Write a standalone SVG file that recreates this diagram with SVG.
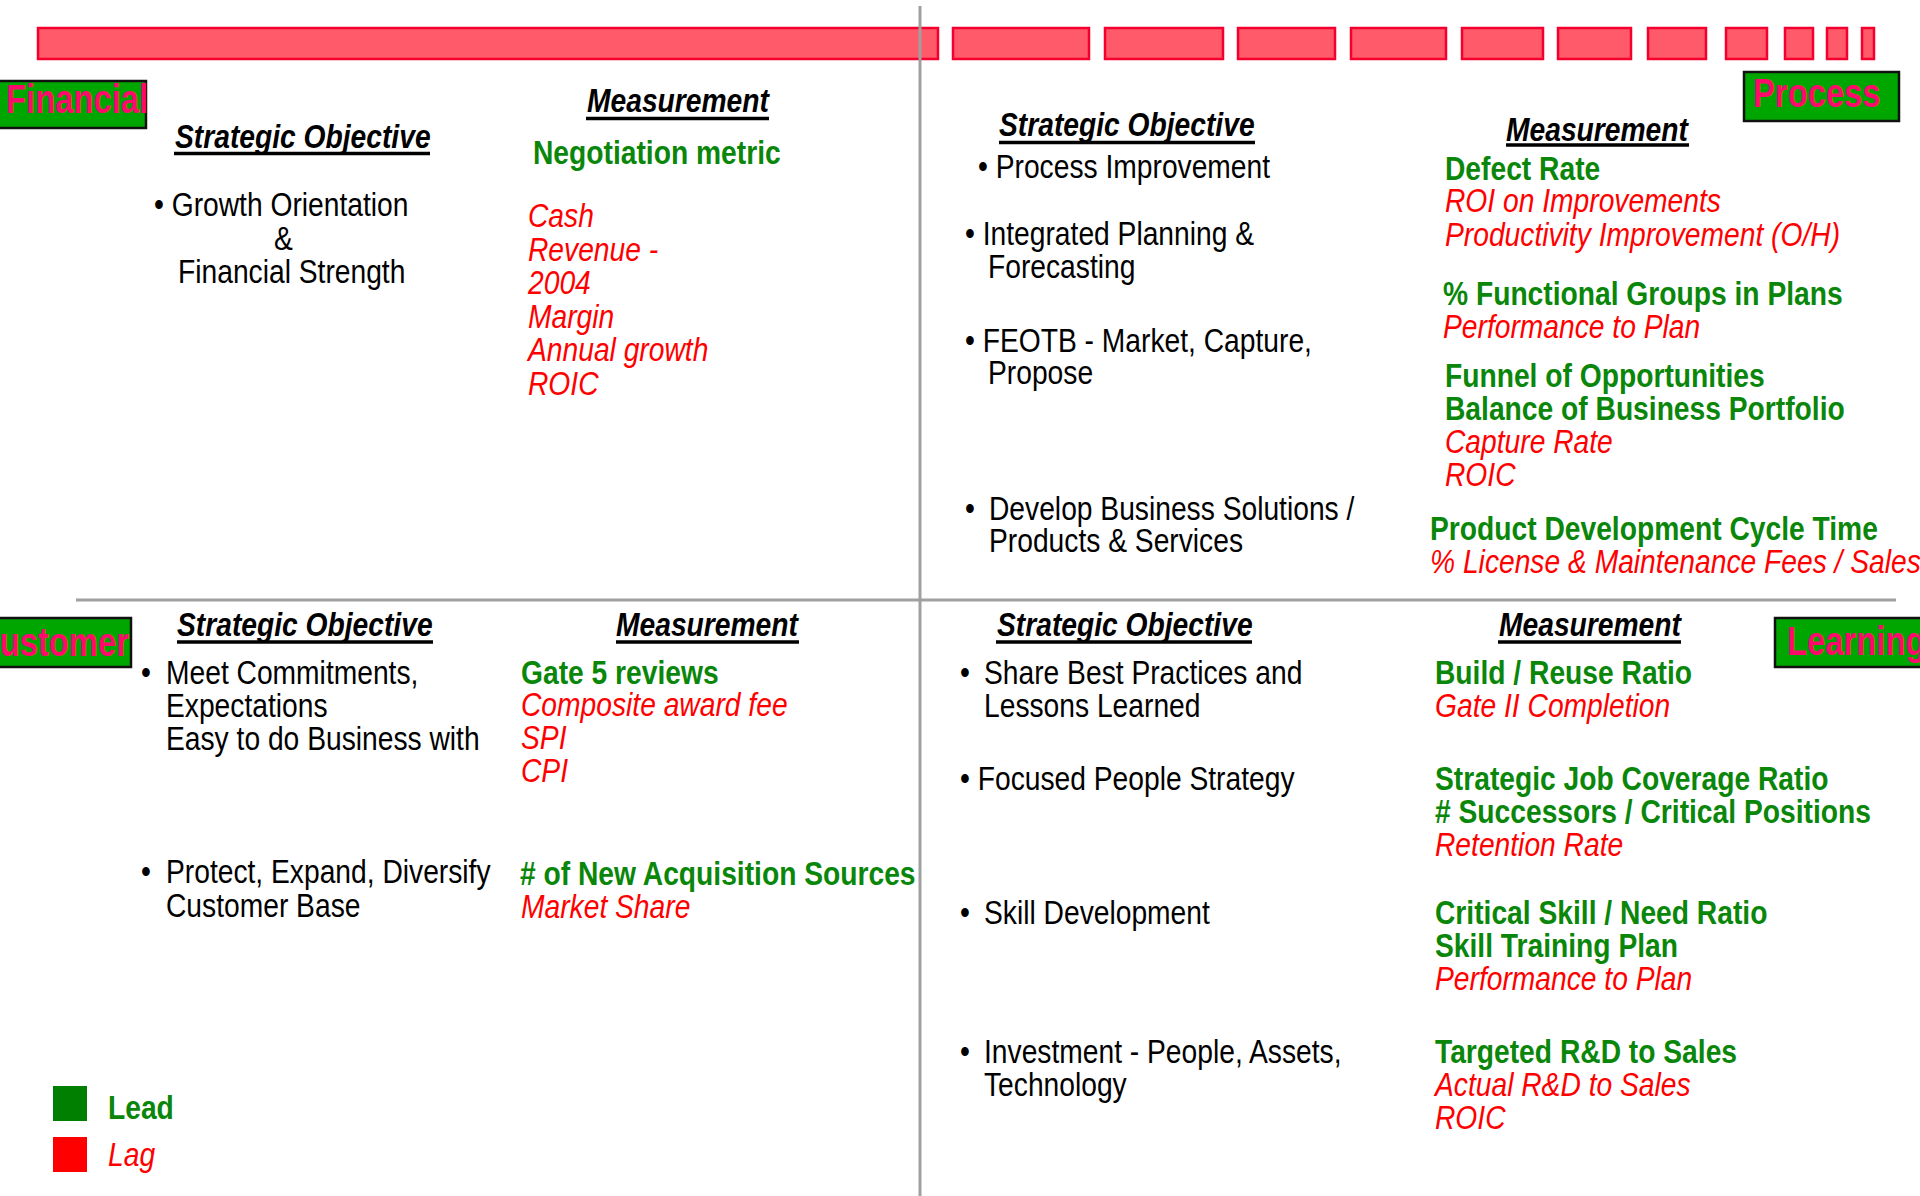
<svg xmlns="http://www.w3.org/2000/svg" width="1920" height="1196" viewBox="0 0 1920 1196">
<style>
text{font-family:'Liberation Sans','Arial',sans-serif;font-size:34px}
.bar{fill:#fe5a6a;stroke:#f5002e;stroke-width:2.5}
.lbl{fill:#00a600;stroke:#111;stroke-width:2.5}
.lt{font-weight:bold;font-size:40px;fill:#ff0a6a}
.h{font-weight:bold;font-style:italic;fill:#000}
.ul{stroke:#000;stroke-width:3.5}
.b{fill:#000}
.g{font-weight:bold;fill:#0a870a}
.r{font-style:italic;fill:#ff0000}
.div{stroke:#a0a0a0;stroke-width:3;fill:none}
</style>
<rect width="1920" height="1196" fill="#fff"/>
<g id="topbar">
<rect class="bar" x="38" y="28" width="900" height="31"/>
<rect class="bar" x="953" y="28" width="136" height="31"/>
<rect class="bar" x="1105" y="28" width="118" height="31"/>
<rect class="bar" x="1238" y="28" width="97" height="31"/>
<rect class="bar" x="1351" y="28" width="95" height="31"/>
<rect class="bar" x="1462" y="28" width="81" height="31"/>
<rect class="bar" x="1558" y="28" width="73" height="31"/>
<rect class="bar" x="1648" y="28" width="58" height="31"/>
<rect class="bar" x="1726" y="28" width="41" height="31"/>
<rect class="bar" x="1785" y="28" width="28" height="31"/>
<rect class="bar" x="1827" y="28" width="20" height="31"/>
<rect class="bar" x="1862" y="28" width="12" height="31"/>
</g>
<g id="dividers">
<line class="div" x1="920" y1="6" x2="920" y2="1196"/>
<line class="div" x1="76" y1="600" x2="1896" y2="600"/>
</g>
<g id="financial">
<rect class="lbl" x="-3" y="81" width="149" height="47"/>
<text class="lt" transform="translate(6 113) scale(.82 1)">Financial</text>
<text class="h" transform="translate(175 148) scale(.83 1)">Strategic Objective</text>
<line class="ul" x1="174" y1="153.5" x2="430" y2="153.5"/>
<text class="h" transform="translate(587 112) scale(.83 1)">Measurement</text>
<line class="ul" x1="586" y1="118.5" x2="769" y2="118.5"/>
<text class="g" transform="translate(533 164) scale(.83 1)">Negotiation metric</text>
<text class="b" transform="translate(154 216) scale(.83 1)">• Growth Orientation</text>
<text class="b" transform="translate(274 250) scale(.83 1)">&amp;</text>
<text class="b" transform="translate(178 283) scale(.83 1)">Financial Strength</text>
<text class="r" transform="translate(528 227) scale(.83 1)">Cash</text>
<text class="r" transform="translate(528 261) scale(.83 1)">Revenue -</text>
<text class="r" transform="translate(528 294) scale(.83 1)">2004</text>
<text class="r" transform="translate(528 328) scale(.83 1)">Margin</text>
<text class="r" transform="translate(528 361) scale(.83 1)">Annual growth</text>
<text class="r" transform="translate(528 395) scale(.83 1)">ROIC</text>
</g>
<g id="process">
<rect class="lbl" x="1744" y="72" width="155" height="49"/>
<text class="lt" transform="translate(1753 107) scale(.82 1)">Process</text>
<text class="h" transform="translate(999 136) scale(.83 1)">Strategic Objective</text>
<line class="ul" x1="999" y1="142.5" x2="1255" y2="142.5"/>
<text class="h" transform="translate(1506 141) scale(.83 1)">Measurement</text>
<line class="ul" x1="1506" y1="145" x2="1689" y2="145"/>
<text class="b" transform="translate(978 178) scale(.83 1)">• Process Improvement</text>
<text class="b" transform="translate(965 245) scale(.83 1)">• Integrated Planning &amp;</text>
<text class="b" transform="translate(988 278) scale(.83 1)">Forecasting</text>
<text class="b" transform="translate(965 352) scale(.83 1)">• FEOTB - Market, Capture,</text>
<text class="b" transform="translate(988 384) scale(.83 1)">Propose</text>
<text class="b" transform="translate(965 520) scale(.83 1)">•</text>
<text class="b" transform="translate(989 520) scale(.83 1)">Develop Business Solutions /</text>
<text class="b" transform="translate(989 552) scale(.83 1)">Products &amp; Services</text>
<text class="g" transform="translate(1445 180) scale(.83 1)">Defect Rate</text>
<text class="r" transform="translate(1445 212) scale(.83 1)">ROI on Improvements</text>
<text class="r" transform="translate(1445 246) scale(.83 1)">Productivity Improvement (O/H)</text>
<text class="g" transform="translate(1443 305) scale(.83 1)">% Functional Groups in Plans</text>
<text class="r" transform="translate(1443 338) scale(.83 1)">Performance to Plan</text>
<text class="g" transform="translate(1445 387) scale(.83 1)">Funnel of Opportunities</text>
<text class="g" transform="translate(1445 420) scale(.83 1)">Balance of Business Portfolio</text>
<text class="r" transform="translate(1445 453) scale(.83 1)">Capture Rate</text>
<text class="r" transform="translate(1445 486) scale(.83 1)">ROIC</text>
<text class="g" transform="translate(1430 540) scale(.83 1)">Product Development Cycle Time</text>
<text class="r" transform="translate(1430 573) scale(.83 1)">% License &amp; Maintenance Fees / Sales</text>
</g>
<g id="customer">
<rect class="lbl" x="-20" y="618" width="151" height="49"/>
<text class="lt" text-anchor="end" transform="translate(129 656) scale(.82 1)">Customer</text>
<text class="h" transform="translate(177 636) scale(.83 1)">Strategic Objective</text>
<line class="ul" x1="177" y1="642" x2="433" y2="642"/>
<text class="h" transform="translate(616 636) scale(.83 1)">Measurement</text>
<line class="ul" x1="616" y1="642" x2="799" y2="642"/>
<text class="b" transform="translate(141 684) scale(.83 1)">•</text>
<text class="b" transform="translate(166 684) scale(.83 1)">Meet Commitments,</text>
<text class="b" transform="translate(166 717) scale(.83 1)">Expectations</text>
<text class="b" transform="translate(166 750) scale(.83 1)">Easy to do Business with</text>
<text class="b" transform="translate(141 883) scale(.83 1)">•</text>
<text class="b" transform="translate(166 883) scale(.83 1)">Protect, Expand, Diversify</text>
<text class="b" transform="translate(166 917) scale(.83 1)">Customer Base</text>
<text class="g" transform="translate(521 684) scale(.83 1)">Gate 5 reviews</text>
<text class="r" transform="translate(521 716) scale(.83 1)">Composite award fee</text>
<text class="r" transform="translate(521 749) scale(.83 1)">SPI</text>
<text class="r" transform="translate(521 782) scale(.83 1)">CPI</text>
<text class="g" transform="translate(520 885) scale(.83 1)"># of New Acquisition Sources</text>
<text class="r" transform="translate(521 918) scale(.83 1)">Market Share</text>
</g>
<g id="learning">
<rect class="lbl" x="1775" y="618" width="170" height="49"/>
<text class="lt" transform="translate(1787 655) scale(.82 1)">Learning</text>
<text class="h" transform="translate(997 636) scale(.83 1)">Strategic Objective</text>
<line class="ul" x1="996" y1="642" x2="1252" y2="642"/>
<text class="h" transform="translate(1499 636) scale(.83 1)">Measurement</text>
<line class="ul" x1="1498" y1="642" x2="1681" y2="642"/>
<text class="b" transform="translate(960 684) scale(.83 1)">•</text>
<text class="b" transform="translate(984 684) scale(.83 1)">Share Best Practices and</text>
<text class="b" transform="translate(984 717) scale(.83 1)">Lessons Learned</text>
<text class="b" transform="translate(960 790) scale(.83 1)">• Focused People Strategy</text>
<text class="b" transform="translate(960 924) scale(.83 1)">•</text>
<text class="b" transform="translate(984 924) scale(.83 1)">Skill Development</text>
<text class="b" transform="translate(960 1063) scale(.83 1)">•</text>
<text class="b" transform="translate(984 1063) scale(.83 1)">Investment - People, Assets,</text>
<text class="b" transform="translate(984 1096) scale(.83 1)">Technology</text>
<text class="g" transform="translate(1435 684) scale(.83 1)">Build / Reuse Ratio</text>
<text class="r" transform="translate(1435 717) scale(.83 1)">Gate II Completion</text>
<text class="g" transform="translate(1435 790) scale(.83 1)">Strategic Job Coverage Ratio</text>
<text class="g" transform="translate(1435 823) scale(.83 1)"># Successors / Critical Positions</text>
<text class="r" transform="translate(1435 856) scale(.83 1)">Retention Rate</text>
<text class="g" transform="translate(1435 924) scale(.83 1)">Critical Skill / Need Ratio</text>
<text class="g" transform="translate(1435 957) scale(.83 1)">Skill Training Plan</text>
<text class="r" transform="translate(1435 990) scale(.83 1)">Performance to Plan</text>
<text class="g" transform="translate(1435 1063) scale(.83 1)">Targeted R&amp;D to Sales</text>
<text class="r" transform="translate(1435 1096) scale(.83 1)">Actual R&amp;D to Sales</text>
<text class="r" transform="translate(1435 1129) scale(.83 1)">ROIC</text>
</g>
<g id="legend">
<rect x="53" y="1086" width="34" height="35" fill="#007f00"/>
<rect x="53" y="1137" width="34" height="35" fill="#ff0000"/>
<text class="g" transform="translate(108 1119) scale(.83 1)">Lead</text>
<text class="r" transform="translate(108 1166) scale(.83 1)">Lag</text>
</g>
</svg>
